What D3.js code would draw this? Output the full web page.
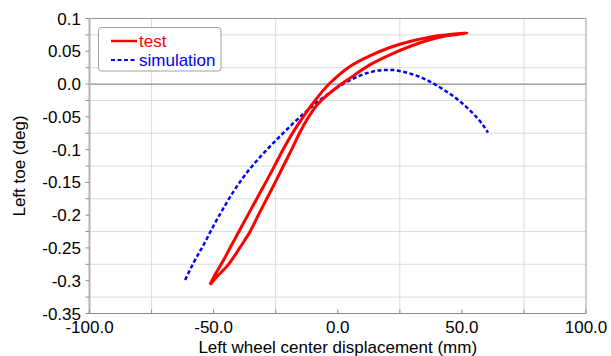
<!DOCTYPE html>
<html>
<head>
<meta charset="utf-8">
<script src="https://cdn.jsdelivr.net/npm/d3@7"></script>
<style>
  html, body { margin: 0; padding: 0; background: #fff; }
  svg { display: block; }
  text { font-family: "Liberation Sans", Arial, sans-serif; }
</style>
</head>
<body>
<svg id="chart" width="611" height="356"></svg>
<script>
// Measured toe curve (hysteresis loop: up the lower branch, back down the upper branch)
const testX = [-51.5, -48.7, -44.0, -39.5, -35.3, -32.0, -28.6, -25.2, -21.9, -18.6, -15.4, -12.2, -8.6, -4.6, 0.0, 4.9, 12.9, 21.0, 29.0, 37.0, 43.7, 52.0,
               45.0, 37.0, 29.0, 21.0, 12.9, 4.9, -3.5, -9.1, -13.6, -17.6, -21.3, -24.8, -28.3, -31.9, -35.5, -39.1, -42.7, -46.2, -49.6, -51.5];
const testY = [-0.306, -0.294, -0.275, -0.250, -0.225, -0.200, -0.175, -0.150, -0.125, -0.100, -0.075, -0.053, -0.033, -0.018, -0.004, 0.009, 0.0293, 0.0446, 0.0573, 0.0675, 0.0736, 0.0777,
               0.0755, 0.0716, 0.0650, 0.0558, 0.0430, 0.0268, 0.0000, -0.025, -0.048, -0.071, -0.095, -0.120, -0.145, -0.170, -0.195, -0.220, -0.245, -0.270, -0.292, -0.306];

// Simulated toe curve
const simX = [-61.5, -58, -54, -50, -46, -42, -38, -34, -30, -26, -22, -18, -14, -10, -6, -2, 2, 6, 10, 14, 18, 22, 26, 30, 34, 38, 42, 46, 50, 54, 58, 60.5];
const simY = [-0.299, -0.272, -0.245, -0.216, -0.189, -0.164, -0.142, -0.123, -0.106, -0.090, -0.075, -0.060, -0.046, -0.033, -0.021, -0.010, 0.000, 0.008, 0.0145, 0.019, 0.0213, 0.0215, 0.019, 0.015, 0.0095, 0.002, -0.007, -0.017, -0.029, -0.043, -0.060, -0.074];

// Axis ticks and labels
const xLabelValues = [-100, -50, 0, 50, 100];
const xTickValues = [-100, -75, -50, -25, 0, 25, 50, 75, 100];
const xGridValues = [-75, -25, 25, 75];
const yLabelValues = [0.1, 0.05, 0, -0.05, -0.1, -0.15, -0.2, -0.25, -0.3, -0.35];
const yLabelText = ["0.1", "0.05", "0.0", "-0.05", "-0.1", "-0.15", "-0.2", "-0.25", "-0.3", "-0.35"];
const yTickValues = d3.range(0, 19).map(i => 0.1 - i * 0.025);
const yGridValues = [0.075, 0.025, -0.025, -0.075, -0.125, -0.175, -0.225, -0.275, -0.325];

const seriesNames = ["test", "simulation"];
const seriesColors = ["#ff0000", "#0000ff"];

const xTitle = "Left wheel center displacement (mm)";
const yTitle = "Left toe (deg)";

const svg = d3.select("#chart");
const L = 89.5, R = 586, T = 18.5, B = 313.5;
const x = d3.scaleLinear().domain([-100, 100]).range([L, R]);
const y = d3.scaleLinear().domain([-0.35, 0.1]).range([B, T]);
const FS = 17;

// grid
const g = svg.append("g");
g.selectAll(".vg").data(xGridValues).join("line")
  .attr("x1", d => x(d)).attr("x2", d => x(d)).attr("y1", T).attr("y2", B)
  .attr("stroke", "#dcdcdc").attr("stroke-width", 1);
g.selectAll(".hg").data(yGridValues).join("line")
  .attr("x1", L).attr("x2", R).attr("y1", d => y(d)).attr("y2", d => y(d))
  .attr("stroke", "#dcdcdc").attr("stroke-width", 1);
// zero line
g.append("line").attr("x1", L).attr("x2", R).attr("y1", y(0)).attr("y2", y(0))
  .attr("stroke", "#8c8c8c").attr("stroke-width", 1.2);

// frame
g.append("line").attr("x1", L).attr("x2", R).attr("y1", T).attr("y2", T).attr("stroke", "#9a9a9a");
g.append("line").attr("x1", R).attr("x2", R).attr("y1", T).attr("y2", B).attr("stroke", "#9a9a9a");
g.append("line").attr("x1", L).attr("x2", R).attr("y1", B).attr("y2", B).attr("stroke", "#8c8c8c");
g.append("line").attr("x1", L).attr("x2", L).attr("y1", T).attr("y2", B).attr("stroke", "#b4b4b4").attr("stroke-width", 2);

// ticks
g.selectAll(".xt").data(xTickValues).join("line")
  .attr("x1", d => x(d)).attr("x2", d => x(d)).attr("y1", B).attr("y2", B - 4)
  .attr("stroke", "#8c8c8c");
g.selectAll(".yt").data(yTickValues).join("line")
  .attr("x1", L - 4).attr("x2", L).attr("y1", d => y(d)).attr("y2", d => y(d))
  .attr("stroke", "#8c8c8c");

// tick labels
svg.selectAll(".xl").data(xLabelValues).join("text")
  .attr("x", d => x(d)).attr("y", 333)
  .attr("text-anchor", "middle").attr("font-size", FS).attr("fill", "#000")
  .text(d => d3.format(".1f")(d).replace("−", "-"));
svg.selectAll(".yl").data(yLabelValues).join("text")
  .attr("x", 81).attr("y", d => y(d) + 6)
  .attr("text-anchor", "end").attr("font-size", FS).attr("fill", "#000")
  .text((d, i) => yLabelText[i]);

// axis titles
svg.append("text")
  .attr("x", (L + R) / 2).attr("y", 353)
  .attr("text-anchor", "middle").attr("font-size", FS).text(xTitle);
svg.append("text")
  .attr("transform", `translate(25,${(T + B) / 2}) rotate(-90)`)
  .attr("text-anchor", "middle").attr("font-size", FS).text(yTitle);

// curves
const plot = svg.append("g");
const simPts = simX.map((v, i) => [v, simY[i]]);
const testPts = testX.map((v, i) => [v, testY[i]]);
const simLine = d3.line().x(d => x(d[0])).y(d => y(d[1])).curve(d3.curveMonotoneX);
const loopLine = d3.line().x(d => x(d[0])).y(d => y(d[1])).curve(d3.curveCatmullRom.alpha(0.5));
plot.append("path").datum(simPts).attr("d", simLine)
  .attr("fill", "none").attr("stroke", seriesColors[1]).attr("stroke-width", 2.5)
  .attr("stroke-dasharray", "4,2.5");
plot.append("path").datum(testPts).attr("d", loopLine)
  .attr("fill", "none").attr("stroke", seriesColors[0]).attr("stroke-width", 3)
  .attr("stroke-linejoin", "round");

// legend
const lg = svg.append("g");
lg.append("rect").attr("x", 98.5).attr("y", 27.5).attr("width", 122.5).attr("height", 43.5)
  .attr("rx", 3).attr("fill", "#fff").attr("stroke", "#a0a0a0");
seriesNames.forEach((name, i) => {
  const ly = 41 + i * 19;
  lg.append("line").attr("x1", 111).attr("x2", 137).attr("y1", ly).attr("y2", ly)
    .attr("stroke", seriesColors[i]).attr("stroke-width", i === 0 ? 2.5 : 2)
    .attr("stroke-dasharray", i === 0 ? null : "4,2.5");
  lg.append("text").attr("x", 139).attr("y", ly + 5.5)
    .attr("font-size", FS).attr("fill", seriesColors[i]).text(name);
});
</script>
</body>
</html>
